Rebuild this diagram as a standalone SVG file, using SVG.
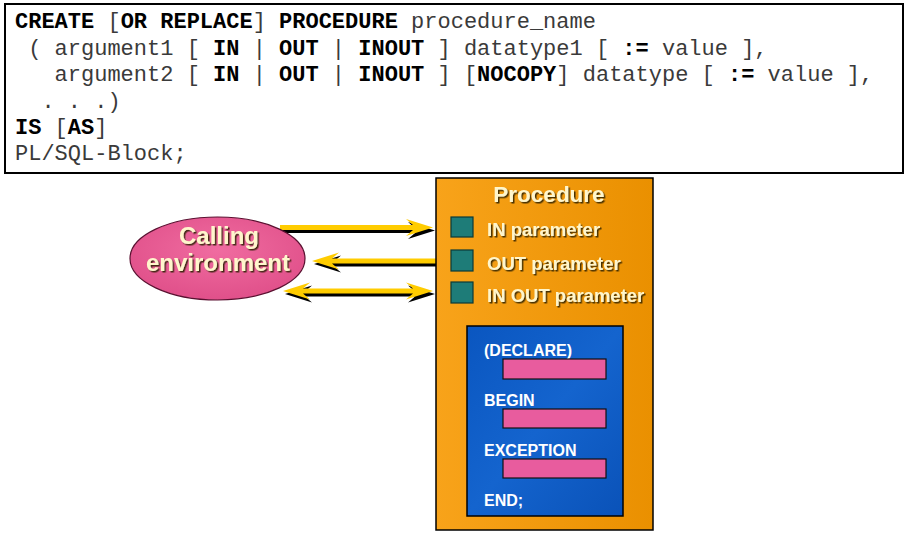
<svg xmlns="http://www.w3.org/2000/svg" width="909" height="536" viewBox="0 0 909 536">
<style>
.code{font-family:"Liberation Mono","Courier New",monospace;font-size:22px;fill:#3a3a3a;}
.b{font-weight:bold;fill:#000;}
.lbl{font-family:"Liberation Sans",Arial,sans-serif;font-weight:bold;fill:#FFF6CC;}
.blk{font-family:"Liberation Sans",Arial,sans-serif;font-weight:bold;font-size:16px;fill:#FFFFFF;}
.sq{fill:#1E7C78;stroke:#0B3A38;stroke-width:1.2;}
.bar{fill:#E85C9E;stroke:#111;stroke-width:1.2;}
.ay{fill:#FFCC00;}
.as{fill:#000;}
</style>
<defs>
<linearGradient id="og" x1="0" y1="0" x2="1" y2="0">
<stop offset="0" stop-color="#F8A31A"/>
<stop offset="1" stop-color="#EA9000"/>
</linearGradient>
<linearGradient id="bg" x1="0" y1="0" x2="1" y2="1">
<stop offset="0" stop-color="#0A56C0"/>
<stop offset="0.5" stop-color="#1464CE"/>
<stop offset="1" stop-color="#0A52B8"/>
</linearGradient>
<radialGradient id="pg" cx="0.5" cy="0.4" r="0.6">
<stop offset="0" stop-color="#F06CA0"/>
<stop offset="1" stop-color="#E0508A"/>
</radialGradient>
<filter id="sh" x="-10%" y="-20%" width="130%" height="150%">
<feDropShadow dx="1.5" dy="1.5" stdDeviation="0.4" flood-color="#2a1a00" flood-opacity="0.85"/>
</filter>
</defs>

<g id="syntax">
<rect x="5" y="4" width="898" height="169" fill="#FFFFFF" stroke="#000" stroke-width="2"/>
<text class="code" x="15" y="28" xml:space="preserve"><tspan class="b">CREATE</tspan> [<tspan class="b">OR REPLACE</tspan>] <tspan class="b">PROCEDURE</tspan> procedure_name</text>
<text class="code" x="15" y="54.5" xml:space="preserve"> ( argument1 [ <tspan class="b">IN</tspan> | <tspan class="b">OUT</tspan> | <tspan class="b">INOUT</tspan> ] datatype1 [ <tspan class="b">:=</tspan> value ],</text>
<text class="code" x="15" y="81" xml:space="preserve">   argument2 [ <tspan class="b">IN</tspan> | <tspan class="b">OUT</tspan> | <tspan class="b">INOUT</tspan> ] [<tspan class="b">NOCOPY</tspan>] datatype [ <tspan class="b">:=</tspan> value ],</text>
<text class="code" x="15" y="107.5" xml:space="preserve">  . . .)</text>
<text class="code" x="15" y="134" xml:space="preserve"><tspan class="b">IS</tspan> [<tspan class="b">AS</tspan>]</text>
<text class="code" x="15" y="160" xml:space="preserve">PL/SQL-Block;</text>
</g>

<g id="connectors">
<path class="as" transform="translate(2,3)" d="M280,225 H413 L406,219 L433,227.5 L406,236 L413,230 H280 Z"/>
<path class="ay" d="M280,225 H413 L406,219 L433,227.5 L406,236 L413,230 H280 Z"/>
<path class="as" transform="translate(2,3)" d="M436,258.5 H332 L339,252.5 L312,261 L339,269.5 L332,263.5 H436 Z"/>
<path class="ay" d="M436,258.5 H332 L339,252.5 L312,261 L339,269.5 L332,263.5 H436 Z"/>
<path class="as" transform="translate(2,3)" d="M283,291 L310,282.5 L303,288.5 H413 L406,282.5 L433,291 L406,299.5 L413,293.5 H303 L310,299.5 Z"/>
<path class="ay" d="M283,291 L310,282.5 L303,288.5 H413 L406,282.5 L433,291 L406,299.5 L413,293.5 H303 L310,299.5 Z"/>
</g>

<g id="calling-environment">
<ellipse cx="217.5" cy="258.5" rx="87.5" ry="41.5" fill="url(#pg)" stroke="#5a1030" stroke-width="1.2"/>
<text class="lbl" x="219" y="244" font-size="24" text-anchor="middle" filter="url(#sh)">Calling</text>
<text class="lbl" x="218" y="271" font-size="24" text-anchor="middle" filter="url(#sh)">environment</text>
</g>

<g id="procedure">
<rect x="436" y="178" width="217" height="352" fill="url(#og)" stroke="#000" stroke-width="1.5"/>
<text class="lbl" x="549" y="202" font-size="22.5" text-anchor="middle" filter="url(#sh)">Procedure</text>
</g>

<g id="in-parameter">
<rect class="sq" x="451" y="217" width="22" height="20"/>
<text class="lbl" x="487" y="236" font-size="18.5" filter="url(#sh)">IN parameter</text>
</g>
<g id="out-parameter">
<rect class="sq" x="451" y="250" width="22" height="21"/>
<text class="lbl" x="487" y="269.5" font-size="18.5" filter="url(#sh)">OUT parameter</text>
</g>
<g id="inout-parameter">
<rect class="sq" x="451" y="282" width="22" height="21"/>
<text class="lbl" x="487" y="302" font-size="18.5" filter="url(#sh)">IN OUT parameter</text>
</g>

<g id="plsql-block">
<rect x="467" y="326" width="156" height="190" fill="url(#bg)" stroke="#000" stroke-width="1.5"/>
<text class="blk" x="484" y="356">(DECLARE)</text>
<rect class="bar" x="503" y="359" width="103" height="20"/>
<text class="blk" x="484" y="406">BEGIN</text>
<rect class="bar" x="503" y="409" width="103" height="19"/>
<text class="blk" x="484" y="456">EXCEPTION</text>
<rect class="bar" x="503" y="459" width="103" height="19"/>
<text class="blk" x="484" y="506">END;</text>
</g>
</svg>
